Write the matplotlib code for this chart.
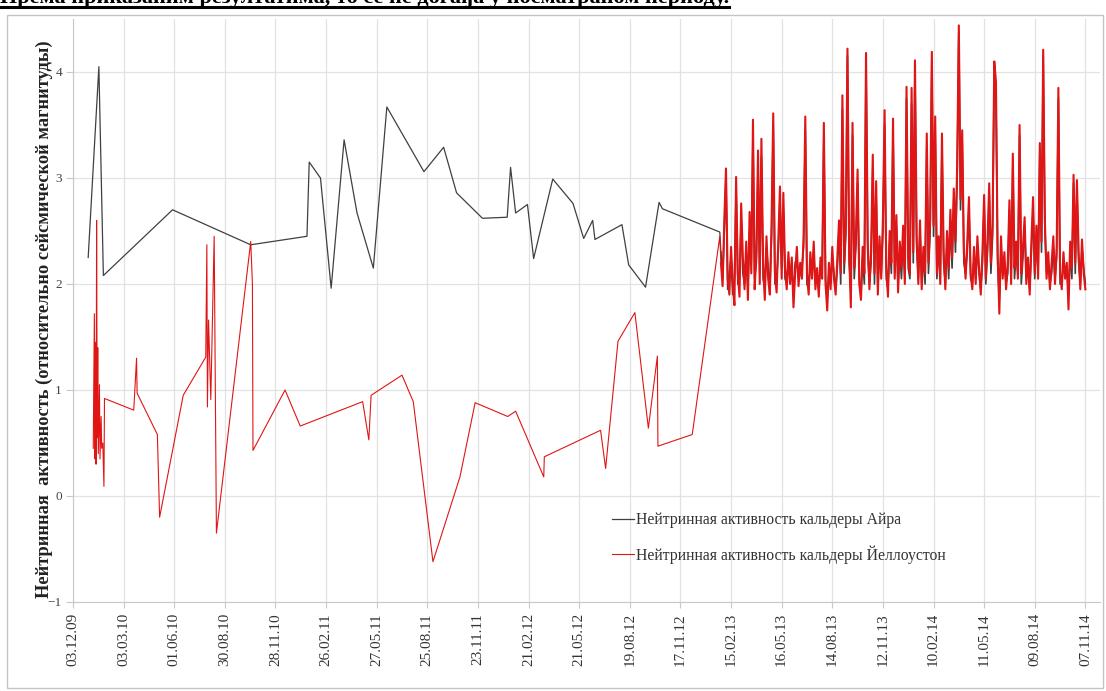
import matplotlib
matplotlib.use("Agg")
import matplotlib.pyplot as plt
import matplotlib.dates as mdates
from matplotlib.patches import Rectangle
from matplotlib.lines import Line2D
import pandas as pd

plt.rcParams["font.family"] = ["Liberation Serif", "DejaVu Serif"]

# sparse observations before the daily series begins
aira_dates = [
    "2009-12-30", "2010-01-18", "2010-01-26", "2010-05-29", "2010-10-15",
    "2011-01-23", "2011-01-27", "2011-02-16", "2011-03-07", "2011-03-30",
    "2011-04-22", "2011-05-21", "2011-06-14", "2011-08-19", "2011-09-23",
    "2011-10-16", "2011-12-01", "2012-01-14", "2012-01-20", "2012-01-29",
    "2012-02-19", "2012-03-01", "2012-04-04", "2012-05-10", "2012-05-29",
    "2012-06-14", "2012-06-18", "2012-08-05", "2012-08-17", "2012-09-16",
    "2012-10-10", "2012-10-16", "2013-01-26",
]
aira_vals = [
    2.25, 4.05, 2.08, 2.70, 2.37,
    2.45, 3.15, 3.00, 1.96, 3.36,
    2.67, 2.15, 3.67, 3.06, 3.29,
    2.86, 2.62, 2.63, 3.10, 2.67,
    2.75, 2.24, 2.99, 2.76, 2.43,
    2.60, 2.42, 2.56, 2.18, 1.97,
    2.77, 2.71, 2.49,
]

yell_dates = [
    "2010-01-08", "2010-01-10", "2010-01-11", "2010-01-12", "2010-01-13",
    "2010-01-14", "2010-01-15", "2010-01-16", "2010-01-17", "2010-01-19",
    "2010-01-20", "2010-01-22", "2010-01-23", "2010-01-25", "2010-01-27",
    "2010-01-28", "2010-03-21", "2010-03-26", "2010-03-27", "2010-05-02",
    "2010-05-06", "2010-06-17", "2010-07-27", "2010-07-29", "2010-07-30",
    "2010-08-01", "2010-08-05", "2010-08-11", "2010-08-15", "2010-10-15",
    "2010-10-18", "2010-10-19", "2010-12-15", "2011-01-11", "2011-05-02",
    "2011-05-13", "2011-05-17", "2011-07-11", "2011-07-31", "2011-09-04",
    "2011-10-22", "2011-11-18", "2012-01-15", "2012-01-29", "2012-03-19",
    "2012-03-20", "2012-06-28", "2012-07-07", "2012-07-29", "2012-08-28",
    "2012-09-21", "2012-10-07", "2012-10-08", "2012-12-08", "2013-01-26",
]
yell_vals = [
    0.45, 1.72, 0.35, 1.45, 0.30,
    2.60, 0.55, 1.40, 0.40, 1.05,
    0.35, 0.75, 0.45, 0.50, 0.09,
    0.92, 0.81, 1.30, 0.97, 0.58,
    -0.20, 0.95, 1.31, 2.37, 0.84,
    1.66, 0.91, 2.45, -0.35, 2.40,
    2.00, 0.43, 1.00, 0.66, 0.89,
    0.53, 0.95, 1.14, 0.89, -0.62,
    0.18, 0.88, 0.75, 0.80, 0.18,
    0.37, 0.62, 0.26, 1.46, 1.73,
    0.64, 1.32, 0.47, 0.58, 2.45,
]

# regular series, one reading every 3 days from 28.01.13
daily_start = "2013-01-28"
daily_step = "3D"
aira_daily = [
    2.30, 2.05, 2.50, 3.00, 1.95, 2.10, 2.25, 1.90, 2.05, 2.90,
    2.00, 2.05, 2.60, 2.10, 2.00, 2.30, 1.95, 2.50, 2.20, 3.40,
    2.05, 2.20, 3.10, 2.10, 3.20, 2.05, 1.95, 2.35, 2.15, 1.95,
    2.45, 3.50, 2.00, 2.05, 2.30, 2.80, 2.15, 2.70, 2.05, 2.00,
    2.20, 2.10, 2.15, 1.90, 2.20, 2.25, 2.05, 2.10, 2.15, 2.35,
    3.45, 2.00, 1.95, 2.20, 2.10, 2.30, 2.00, 2.05, 1.95, 2.15,
    2.10, 3.40, 2.05, 1.85, 2.10, 2.00, 2.25, 2.10, 1.95, 2.15,
    2.50, 2.00, 3.65, 2.10, 2.45, 4.15, 2.20, 1.95, 3.40, 2.05,
    2.35, 2.95, 2.05, 1.90, 2.25, 2.00, 4.10, 2.30, 2.00, 2.20,
    3.10, 2.00, 2.85, 1.95, 2.35, 2.10, 2.50, 3.50, 2.05, 1.95,
    2.40, 2.10, 3.45, 2.10, 2.55, 1.98, 2.30, 2.05, 2.45, 2.05,
    3.75, 2.15, 2.05, 3.70, 2.20, 4.05, 2.35, 2.05, 2.50, 2.00,
    2.25, 2.00, 3.30, 2.10, 2.50, 4.12, 2.45, 3.45, 2.05, 2.35,
    2.05, 3.30, 2.20, 2.00, 2.40, 2.05, 2.60, 2.15, 2.80, 2.30,
    3.00, 4.38, 2.70, 3.35, 2.20, 2.10, 2.30, 2.70, 2.05, 2.00,
    2.25, 2.05, 2.35, 2.10, 1.95, 2.20, 2.75, 2.00, 2.30, 2.85,
    2.10, 2.45, 4.02, 3.80, 2.20, 1.85, 2.35, 2.10, 2.20, 2.00,
    2.10, 2.70, 2.05, 3.15, 2.05, 2.30, 2.10, 3.40, 2.00, 2.25,
    2.55, 2.05, 2.15, 1.95, 2.30, 2.70, 2.05, 2.45, 2.10, 3.25,
    2.30, 4.15, 2.50, 2.10, 2.20, 2.00, 2.10, 2.35, 2.05, 2.25,
    3.75, 2.00, 2.00, 2.20, 2.10, 2.15, 1.90, 2.30, 2.05, 2.95,
    2.10, 2.90, 2.20, 2.00, 2.35, 2.15, 2.00,
]
yell_daily = [
    2.20, 1.98, 2.60, 3.09, 2.05, 1.90, 2.35, 2.00, 1.80, 3.01,
    2.10, 1.88, 2.76, 2.25, 1.95, 2.40, 1.85, 2.68, 2.10, 3.55,
    1.95, 2.30, 3.26, 2.00, 3.37, 2.20, 1.85, 2.45, 2.05, 1.90,
    2.55, 3.61, 2.10, 1.92, 2.40, 2.92, 2.05, 2.86, 2.15, 1.95,
    2.30, 2.00, 2.25, 1.78, 2.10, 2.35, 1.98, 2.20, 2.05, 2.45,
    3.58, 2.10, 1.90, 2.30, 2.05, 2.40, 1.95, 2.15, 1.88, 2.25,
    2.05, 3.52, 2.00, 1.75, 2.20, 1.95, 2.35, 2.05, 1.90, 2.25,
    2.60, 2.10, 3.78, 2.20, 2.55, 4.22, 2.30, 1.78, 3.52, 2.15,
    2.45, 3.08, 2.00, 1.85, 2.35, 2.10, 4.18, 2.40, 1.95, 2.30,
    3.22, 2.10, 2.97, 1.90, 2.45, 2.05, 2.60, 3.64, 2.15, 1.88,
    2.50, 2.20, 3.56, 2.05, 2.65, 1.92, 2.40, 2.15, 2.55, 2.00,
    3.86, 2.25, 2.10, 3.85, 2.30, 4.11, 2.45, 2.00, 2.60, 1.95,
    2.35, 2.10, 3.42, 2.20, 2.60, 4.19, 2.55, 3.58, 2.10, 2.45,
    2.00, 3.42, 2.30, 1.95, 2.50, 2.15, 2.70, 2.25, 2.90, 2.40,
    3.10, 4.44, 2.80, 3.45, 2.30, 2.05, 2.40, 2.82, 2.10, 1.95,
    2.35, 2.00, 2.45, 2.15, 1.90, 2.30, 2.84, 2.05, 2.40, 2.95,
    2.20, 2.55, 4.10, 3.91, 2.30, 1.72, 2.45, 2.05, 2.30, 1.95,
    2.20, 2.79, 2.00, 3.23, 2.15, 2.40, 2.05, 3.50, 2.10, 2.35,
    2.63, 2.00, 2.25, 1.90, 2.40, 2.82, 2.10, 2.55, 2.05, 3.33,
    2.40, 4.21, 2.60, 2.05, 2.30, 1.95, 2.20, 2.45, 2.00, 2.35,
    3.85, 2.10, 1.95, 2.30, 2.05, 2.20, 1.76, 2.40, 2.15, 3.03,
    2.20, 2.98, 2.30, 1.95, 2.42, 2.10, 1.95,
]

x_start, x_end = "2009-12-03", "2014-12-03"
tick_last = "2014-11-07"
tick_step = "90D"

aira_label = "Нейтринная активность кальдеры Айра"
yell_label = "Нейтринная активность кальдеры Йеллоустон"
y_title = "Нейтринная  активность (относительно сейсмической магнитуды)"
caption = "Према приказаним резултатима, то се не догађа у посматраном периоду."

AIRA_C = "#404040"
YELL_C = "#e01515"

W, H = 1106, 691
fig = plt.figure(figsize=(W / 100, H / 100), dpi=100)
ax = fig.add_axes([73 / W, 1 - 602 / H, (1100 - 73) / W, (602 - 19) / H])

aira_sparse = pd.Series(aira_vals, index=pd.to_datetime(aira_dates))
yell_sparse = pd.Series(yell_vals, index=pd.to_datetime(yell_dates))
aira_dense = pd.Series(aira_daily, index=pd.date_range(daily_start, periods=len(aira_daily), freq=daily_step))
yell_dense = pd.Series(yell_daily, index=pd.date_range(daily_start, periods=len(yell_daily), freq=daily_step))

# sparse part thin, daily part heavier so the band reads as a mass
aira_head = pd.concat([aira_sparse, aira_dense.iloc[:1]])
yell_head = pd.concat([yell_sparse, yell_dense.iloc[:1]])
ax.plot(aira_head.index, aira_head.values, color=AIRA_C, lw=0.9, zorder=3)
ax.plot(aira_dense.index, aira_dense.values, color=AIRA_C, lw=1.2, zorder=3)
ax.plot(yell_head.index, yell_head.values, color=YELL_C, lw=0.8, zorder=4)
ax.plot(yell_dense.index, yell_dense.values, color=YELL_C, lw=1.5, zorder=4)

ticks = pd.date_range(x_start, tick_last, freq=tick_step)
ax.set_xticks(ticks)
ax.xaxis.set_major_formatter(mdates.DateFormatter("%d.%m.%y"))
ax.set_xlim(pd.Timestamp(x_start), pd.Timestamp(x_end))
ax.set_ylim(-1, 4.5)
ax.set_yticks([-1, 0, 1, 2, 3, 4])

ax.grid(True, color="#e2e2e2", lw=0.9)
ax.set_axisbelow(True)
for side in ("top", "right"):
    ax.spines[side].set_visible(False)
for side in ("left", "bottom"):
    ax.spines[side].set_color("#c8c8c8")
ax.tick_params(axis="x", labelrotation=90, labelsize=11, length=4, color="#c8c8c8", pad=4,
               labelcolor="#333333")
ax.tick_params(axis="y", labelsize=9.5, length=5, color="#c8c8c8", pad=3, labelcolor="#444444")

ax.set_ylabel(y_title, fontsize=13.2, fontweight="bold", color="#222222")
ax.yaxis.set_label_coords(-0.019, 0.485)

ax.legend(
    handles=[Line2D([], [], color=AIRA_C, lw=0.9), Line2D([], [], color=YELL_C, lw=0.8)],
    labels=[aira_label, yell_label],
    loc="upper left", bbox_to_anchor=(612 / W, 1 - 512 / H), bbox_transform=fig.transFigure,
    frameon=False, fontsize=11.3, handlelength=1.4, handletextpad=0.12,
    labelspacing=1.1, borderpad=0, borderaxespad=0, labelcolor="#333333",
)

# chart area frame
fig.patches.append(Rectangle((7 / W, 3 / H), (1103 - 7) / W, (688 - 15) / H,
                             transform=fig.transFigure, fill=False, ec="#c4c4c4", lw=1))

# caption above the chart, cut by the top edge, underlined
cap = fig.text(0, 1 - 2.5 / H, caption, fontsize=16, fontweight="bold", va="baseline", ha="left")
fig.canvas.draw()
bb = cap.get_window_extent()
fig.add_artist(Line2D([0, bb.x1 / W], [1 - 7 / H, 1 - 7 / H], transform=fig.transFigure,
                      color="black", lw=2.2))

fig.savefig("out.png", dpi=100)
